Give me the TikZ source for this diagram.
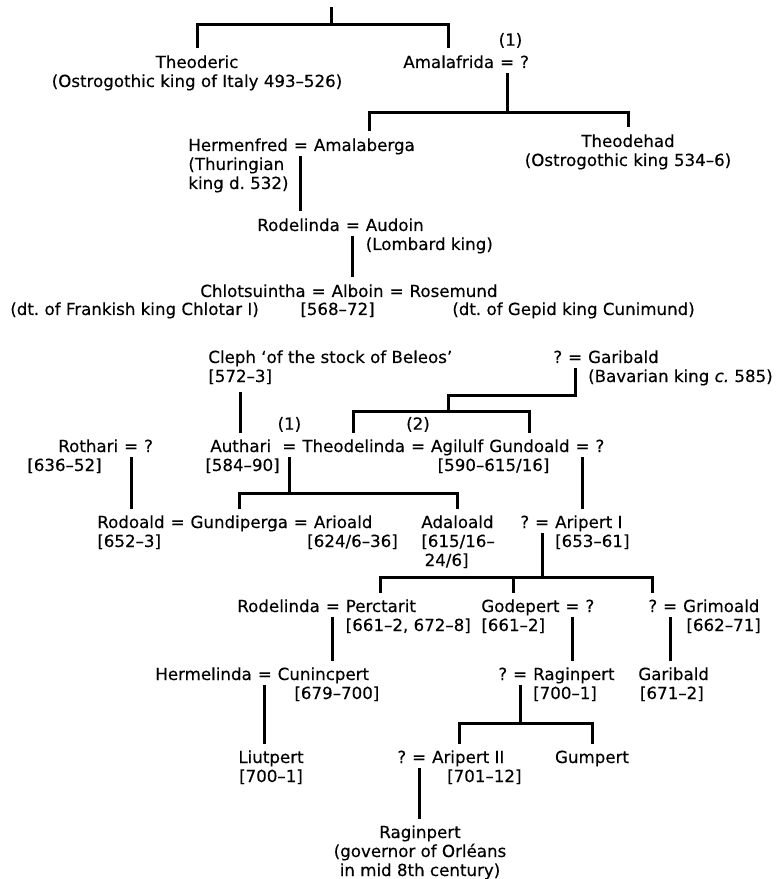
\documentclass[tikz,border=0pt]{standalone}
\usepackage{fontspec}
\setmainfont{DejaVu Sans}[FakeBold=0.3]
\usetikzlibrary{positioning, calc}
\frenchspacing

\begin{document}
\begin{tikzpicture}[
    x=0.6pt, y=-0.6pt,
    person/.style={inner sep=0pt, text height=8pt, text depth=3pt, font=\fontsize{10}{11}\selectfont},
    wed/.style={person, inner xsep=3.2pt},
    branch/.style={line width=1.8pt}
]
\useasboundingbox (0,0) rectangle (778,879);

% Amal family
\coordinate (top) at (331,7);
\coordinate (bar0) at (0,25);
\node[person, anchor=base] (theoderic) at (197,68) {Theoderic};
\node[person, anchor=north] (theoderic-note) at (theoderic.south) {(Ostrogothic king of Italy 493–526)};
\node[person, anchor=base west] (amalafrida) at (403,68) {Amalafrida};
\node[wed, base right=0pt of amalafrida] (w-amal) {=};
\node[person, base right=0pt of w-amal] (amal-x) {?};
\node[person, above=2pt of w-amal, xshift=2pt] (amal-1) {(1)};

\draw[branch] (top) -- (top |- bar0);
\draw[branch] ([yshift=3.5pt]theoderic.north) |- (top |- bar0) -| ([yshift=3.5pt]amalafrida.north);

\coordinate (bar1) at (0,113);
\node[person, anchor=base west] (hermenfred) at (188,151) {Hermenfred};
\node[wed, base right=0pt of hermenfred] (w-herm) {=};
\node[person, base right=0pt of w-herm] (amalaberga) {Amalaberga};
\node[person, anchor=north west] (hermenfred-n1) at (hermenfred.south west) {(Thuringian};
\node[person, anchor=north west] (hermenfred-n2) at (hermenfred-n1.south west) {king d. 532)};
\node[person, anchor=base] (theodehad) at (628,147) {Theodehad};
\node[person, anchor=north] (theodehad-note) at (theodehad.south) {(Ostrogothic king 534–6)};

\draw[branch] (w-amal.south) -- (w-amal.south |- bar1);
\draw[branch] ([xshift=3pt,yshift=3.5pt]amalaberga.north) |- (w-amal.south |- bar1) -| ([yshift=3.5pt]theodehad.north);

% Lombard line
\node[person, anchor=base west] (rodelinda) at (257,231) {Rodelinda};
\node[wed, base right=0pt of rodelinda] (w-aud) {=};
\node[person, base right=0pt of w-aud] (audoin) {Audoin};
\node[person, anchor=north west] (audoin-note) at (audoin.south west) {(Lombard king)};
\draw[branch] (w-herm.south) -- ([yshift=3.5pt]w-herm.south |- rodelinda.north);

\node[person, anchor=base west] (chlotsuintha) at (200,297) {Chlotsuintha};
\node[wed, base right=0pt of chlotsuintha] (w-alb1) {=};
\node[person, base right=0pt of w-alb1] (alboin) {Alboin};
\node[wed, base right=0pt of alboin] (w-alb2) {=};
\node[person, base right=0pt of w-alb2] (rosemund) {Rosemund};
\node[person, anchor=base west] (chlotsuintha-note) at (10,315) {(dt. of Frankish king Chlotar I)};
\node[person, anchor=base west] (alboin-dates) at (300,315) {[568–72]};
\node[person, anchor=base west] (rosemund-note) at (452,315) {(dt. of Gepid king Cunimund)};
\draw[branch] (w-aud.south) -- ([yshift=3.5pt]w-aud.south |- alboin.north);

% Cleph and Garibald
\node[person, anchor=base west] (cleph) at (208,363) {Cleph ‘of the stock of Beleos’};
\node[person, anchor=north west] (cleph-dates) at (cleph.south west) {[572–3]};
\node[person, anchor=base west] (garibald-x) at (553,363) {?};
\node[wed, base right=0pt of garibald-x] (w-gar) {=};
\node[person, base right=0pt of w-gar] (garibald) {Garibald};
\node[person, anchor=north west] (garibald-note) at (garibald.south west) {(Bavarian king \textit{c.} 585)};

\node[person, anchor=base west] (rothari) at (58,452) {Rothari};
\node[wed, base right=0pt of rothari] (w-roth) {=};
\node[person, base right=0pt of w-roth] (rothari-x) {?};
\node[person, anchor=base west] (rothari-dates) at (27,471) {[636–52]};

\node[person, anchor=base west] (authari) at (210,452) {Authari};
\node[wed, base right=3.2pt of authari] (w-auth) {=};
\node[person, base right=0pt of w-auth] (theodelinda) {Theodelinda};
\node[wed, base right=0pt of theodelinda] (w-agil) {=};
\node[person, base right=0pt of w-agil] (agilulf) {Agilulf};
\node[person, base right=3.2pt of agilulf] (gundoald) {Gundoald};
\node[wed, base right=0pt of gundoald] (w-gund) {=};
\node[person, base right=0pt of w-gund] (gundoald-x) {?};
\node[person, above=2pt of w-auth] (mar-1) {(1)};
\node[person, above=2pt of w-agil] (mar-2) {(2)};
\node[person, anchor=north west] (authari-dates) at ([xshift=-3pt]authari.south west) {[584–90]};
\node[person, anchor=north west] (agilulf-dates) at ([xshift=4pt]agilulf.south west) {[590–615/16]};

\coordinate (bar2) at (448,395);
\coordinate (bar3) at (0,411);
\draw[branch] (w-gar.south) |- (bar2) -- (bar2 |- bar3);
\draw[branch] ([yshift=3.5pt]theodelinda.north) |- (bar2 |- bar3) -| ([yshift=3.5pt]gundoald.north);
\draw[branch] ([yshift=-3pt]authari.north |- cleph-dates.south) -- ([yshift=3.5pt]authari.north);

% children of Authari, Rothari, Gundoald
\node[person, anchor=base west] (rodoald) at (97,528) {Rodoald};
\node[wed, base right=0pt of rodoald] (w-rod) {=};
\node[person, base right=0pt of w-rod] (gundiperga) {Gundiperga};
\node[wed, base right=0pt of gundiperga] (w-ario) {=};
\node[person, base right=0pt of w-ario] (arioald) {Arioald};
\node[person, anchor=north west] (rodoald-dates) at (rodoald.south west) {[652–3]};
\node[person, anchor=north west] (arioald-dates) at ([xshift=-4pt]arioald.south west) {[624/6–36]};
\node[person, anchor=base west] (adaloald) at (421,528) {Adaloald};
\node[person, anchor=north west] (adaloald-d1) at (adaloald.south west) {[615/16–};
\node[person, anchor=north west] (adaloald-d2) at ([xshift=2pt]adaloald-d1.south west) {24/6]};
\node[person, anchor=base west] (aripert-x) at (520,528) {?};
\node[wed, base right=0pt of aripert-x] (w-arip) {=};
\node[person, base right=0pt of w-arip] (aripert) {Aripert I};
\node[person, anchor=north west] (aripert-dates) at (aripert.south west) {[653–61]};

\coordinate (bar4) at (0,493);
\draw[branch] (w-roth.south) -- ([yshift=3.5pt]w-roth.south |- rodoald.north);
\draw[branch] (w-auth.south) -- (w-auth.south |- bar4);
\draw[branch] ([yshift=3.5pt]gundiperga.north) |- (w-auth.south |- bar4) -| ([yshift=3.5pt]adaloald.north);
\draw[branch] (w-gund.south) -- ([yshift=3.5pt]w-gund.south |- aripert.north);

% children of Aripert I
\node[person, anchor=base west] (rodelinda-2) at (237,612) {Rodelinda};
\node[wed, base right=0pt of rodelinda-2] (w-perc) {=};
\node[person, base right=0pt of w-perc] (perctarit) {Perctarit};
\node[person, anchor=north west] (perctarit-dates) at (perctarit.south west) {[661–2, 672–8]};
\node[person, anchor=base west] (godepert) at (481,612) {Godepert};
\node[wed, base right=0pt of godepert] (w-gode) {=};
\node[person, base right=0pt of w-gode] (godepert-x) {?};
\node[person, anchor=north west] (godepert-dates) at (godepert.south west) {[661–2]};
\node[person, anchor=base west] (grimoald-x) at (648,612) {?};
\node[wed, base right=0pt of grimoald-x] (w-grim) {=};
\node[person, base right=0pt of w-grim] (grimoald) {Grimoald};
\node[person, anchor=north west] (grimoald-dates) at ([xshift=2pt]grimoald.south west) {[662–71]};

\coordinate (bar5) at (0,577);
\draw[branch] (w-arip.south) -- (w-arip.south |- bar5);
\draw[branch] ([yshift=3.5pt]perctarit.north) |- (w-arip.south |- bar5) -| ([yshift=3.5pt]grimoald-x.north);
\draw[branch] ([xshift=-4pt,yshift=3.5pt]godepert.north) -- ([xshift=-4pt]godepert.north |- bar5);

\node[person, anchor=base west] (hermelinda) at (155,680) {Hermelinda};
\node[wed, base right=0pt of hermelinda] (w-cun) {=};
\node[person, base right=0pt of w-cun] (cunincpert) {Cunincpert};
\node[person, anchor=north west] (cunincpert-dates) at ([xshift=10pt]cunincpert.south west) {[679–700]};
\node[person, anchor=base west] (raginpert-x) at (498,680) {?};
\node[wed, base right=0pt of raginpert-x] (w-ragi) {=};
\node[person, base right=0pt of w-ragi] (raginpert) {Raginpert};
\node[person, anchor=north west] (raginpert-dates) at (raginpert.south west) {[700–1]};
\node[person, anchor=base west] (garibald-2) at (638,680) {Garibald};
\node[person, anchor=north west] (garibald-2-dates) at ([xshift=1pt]garibald-2.south west) {[671–2]};

\draw[branch] (w-perc.south) -- ([yshift=3.5pt]w-perc.south |- cunincpert.north);
\draw[branch] (w-gode.south) -- ([yshift=3.5pt]w-gode.south |- raginpert.north);
\draw[branch] (w-grim.south) -- ([yshift=3.5pt]w-grim.south |- garibald-2.north);

% last generations
\node[person, anchor=base] (liutpert) at (271,763) {Liutpert};
\node[person, anchor=north] (liutpert-dates) at (liutpert.south) {[700–1]};
\node[person, anchor=base west] (aripert2-x) at (397,763) {?};
\node[wed, base right=0pt of aripert2-x] (w-arip2) {=};
\node[person, base right=0pt of w-arip2] (aripert-2) {Aripert II};
\node[person, anchor=north west] (aripert-2-dates) at ([xshift=9pt]aripert-2.south west) {[701–12]};
\node[person, anchor=base] (gumpert) at (592,763) {Gumpert};

\coordinate (bar6) at (0,723);
\draw[branch] (w-cun.south) -- ([yshift=3.5pt]w-cun.south |- liutpert.north);
\draw[branch] (w-ragi.south) -- (w-ragi.south |- bar6);
\draw[branch] ([xshift=-5pt,yshift=3.5pt]aripert-2.north) |- (w-ragi.south |- bar6) -| ([yshift=3.5pt]gumpert.north);

\node[person, anchor=base] (raginpert-2) at (420,838) {Raginpert};
\node[person, anchor=north] (raginpert-2-n1) at (raginpert-2.south) {(governor of Orléans};
\node[person, anchor=north] (raginpert-2-n2) at (raginpert-2-n1.south) {in mid 8th century)};
\draw[branch] (w-arip2.south) -- ([yshift=3.5pt]w-arip2.south |- raginpert-2.north);

\end{tikzpicture}
\end{document}
